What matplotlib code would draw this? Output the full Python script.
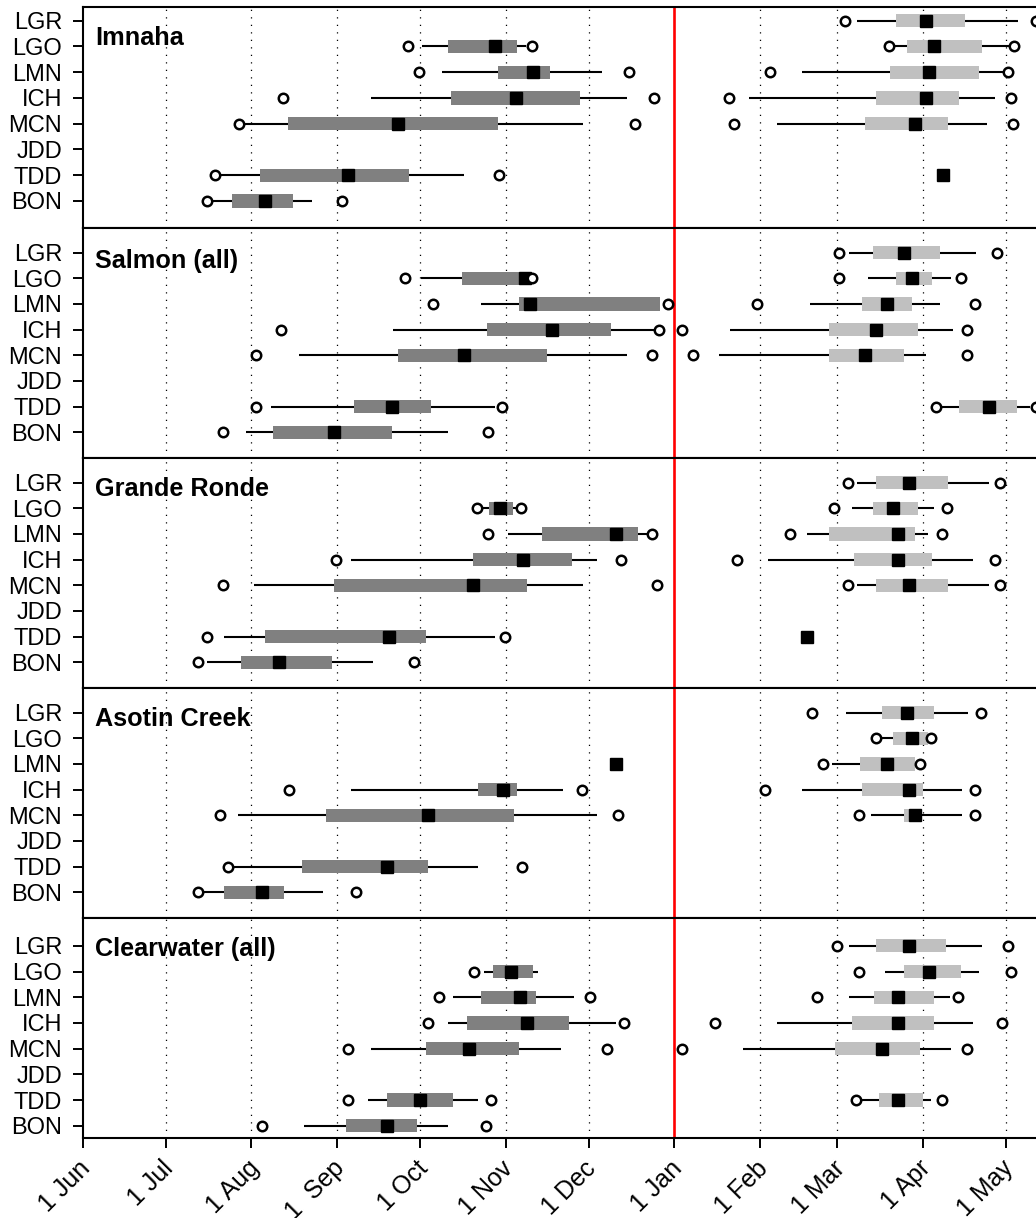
import matplotlib
matplotlib.use("Agg")
import matplotlib.pyplot as plt
from matplotlib.transforms import ScaledTranslation

plt.rcParams['font.family'] = ['Liberation Sans', 'DejaVu Sans']

# ---------------- data (days since 1 June) ----------------
STATIONS = ["LGR", "LGO", "LMN", "ICH", "MCN", "JDD", "TDD", "BON"]
PANEL_TITLES = ["Imnaha", "Salmon (all)", "Grande Ronde", "Asotin Creek", "Clearwater (all)"]
MONTH_TICKS = [0, 30, 61, 92, 122, 153, 183, 214, 245, 273, 304, 334]
MONTH_LABELS = ["1 Jun", "1 Jul", "1 Aug", "1  Sep", "1 Oct", "1 Nov", "1 Dec",
                "1 Jan", "1 Feb", "1 Mar", "1 Apr", "1 May"]
NEW_YEAR = 214

# [whisker low, q1, median, q3, whisker high]
IMNAHA_FALL = {
    "LGO": [122.6, 132.1, 149.1, 157.0, 160.4],
    "LMN": [129.9, 150.1, 163.0, 169.1, 188.0],
    "ICH": [104.2, 133.1, 156.8, 180.0, 197.0],
    "MCN": [58.7, 74.2, 114.0, 150.1, 180.9],
    "TDD": [49.7, 64.1, 96.0, 118.1, 138.0],
    "BON": [46.7, 54.1, 66.1, 76.0, 83.1],
}
IMNAHA_SPRING = {
    "LGR": [280.2, 294.3, 305.1, 319.2, 338.3],
    "LGO": [293.5, 298.1, 308.1, 325.3, 335.5],
    "LMN": [260.1, 292.1, 306.2, 324.3, 333.0],
    "ICH": [241.1, 287.1, 305.1, 317.1, 330.2],
    "MCN": [251.1, 283.1, 301.1, 313.2, 327.1],
}
IMNAHA_SINGLE = {"TDD": 311.1}
IMNAHA_OUT = {
    "LGR": [275.8, 344.9],
    "LGO": [117.8, 162.7, 291.7, 336.9],
    "LMN": [121.8, 197.8, 248.7, 334.9],
    "ICH": [72.6, 206.8, 233.8, 335.9],
    "MCN": [56.5, 199.8, 235.7, 336.7],
    "TDD": [47.9, 150.7],
    "BON": [44.9, 93.7],
}

SALMON_FALL = {
    "LGO": [122.3, 137.1, 160.0, 161.5, 161.5],
    "LMN": [144.1, 157.9, 161.8, 208.9, 208.9],
    "ICH": [112.2, 146.2, 169.9, 191.0, 207.1],
    "MCN": [78.3, 114.2, 138.0, 167.9, 197.0],
    "TDD": [68.0, 98.2, 112.0, 126.0, 149.2],
    "BON": [59.1, 69.0, 90.9, 112.0, 132.1],
}
SALMON_SPRING = {
    "LGR": [277.4, 286.0, 297.1, 310.2, 323.1],
    "LGO": [284.2, 294.3, 300.1, 307.2, 314.0],
    "LMN": [263.1, 282.1, 291.1, 300.1, 310.2],
    "ICH": [234.2, 270.1, 287.1, 302.1, 315.0],
    "MCN": [230.2, 270.1, 283.1, 297.1, 305.1],
    "TDD": [310.8, 317.1, 328.0, 338.1, 342.7],
}
SALMON_SINGLE = {}
SALMON_OUT = {
    "LGR": [273.7, 330.9],
    "LGO": [116.6, 162.7, 273.7, 317.8],
    "LMN": [126.6, 211.6, 243.8, 322.8],
    "ICH": [71.7, 208.6, 216.8, 319.8],
    "MCN": [62.6, 205.9, 220.7, 319.8],
    "TDD": [62.6, 151.8, 308.7, 344.9],
    "BON": [50.7, 146.7],
}

GRANDE_FALL = {
    "LGO": [144.9, 147.1, 151.0, 155.8, 157.0],
    "LMN": [154.0, 166.1, 192.9, 201.0, 204.0],
    "ICH": [97.1, 141.1, 159.2, 176.9, 186.0],
    "MCN": [62.1, 91.0, 141.1, 160.9, 180.9],
    "TDD": [51.1, 66.1, 110.9, 124.1, 149.2],
    "BON": [44.9, 57.2, 71.1, 90.1, 104.9],
}
GRANDE_SPRING = {
    "LGR": [280.2, 287.0, 299.1, 313.2, 328.0],
    "LGO": [278.2, 286.0, 293.1, 302.1, 308.1],
    "LMN": [262.2, 270.1, 295.1, 301.1, 305.9],
    "ICH": [248.0, 279.1, 295.1, 307.2, 322.2],
    "MCN": [280.2, 287.0, 299.1, 313.2, 328.0],
}
GRANDE_SINGLE = {"TDD": 262.2}
GRANDE_OUT = {
    "LGR": [276.8, 331.9],
    "LGO": [142.8, 158.6, 271.8, 312.8],
    "LMN": [146.7, 205.9, 255.9, 310.8],
    "ICH": [91.6, 194.8, 236.8, 330.1],
    "MCN": [50.7, 207.7, 276.8, 331.9],
    "TDD": [44.9, 152.8],
    "BON": [41.8, 119.9],
}

ASOTIN_FALL = {
    "ICH": [97.1, 143.1, 152.0, 157.0, 173.9],
    "MCN": [56.1, 88.0, 125.0, 156.1, 186.0],
    "TDD": [54.5, 79.2, 110.0, 125.0, 143.1],
    "BON": [43.6, 51.1, 65.0, 72.8, 86.8],
}
ASOTIN_SPRING = {
    "LGR": [276.2, 289.3, 298.1, 308.1, 320.2],
    "LGO": [288.5, 293.3, 300.1, 305.9, 305.9],
    "LMN": [271.2, 281.2, 291.1, 301.1, 301.1],
    "ICH": [260.1, 282.1, 299.1, 304.1, 318.0],
    "MCN": [285.2, 297.3, 301.1, 302.3, 318.0],
}
ASOTIN_SINGLE = {"LMN": 192.9}
ASOTIN_OUT = {
    "LGR": [263.7, 324.9],
    "LGO": [286.9, 306.9],
    "LMN": [267.7, 302.9],
    "ICH": [74.7, 180.8, 246.9, 322.8],
    "MCN": [49.7, 193.8, 280.9, 322.8],
    "TDD": [52.7, 158.8],
    "BON": [41.8, 98.9],
}

CLEAR_FALL = {
    "LGO": [145.2, 148.3, 155.0, 162.8, 164.8],
    "LMN": [134.1, 144.1, 158.2, 164.0, 177.9],
    "ICH": [132.3, 139.1, 160.9, 175.9, 192.8],
    "MCN": [104.2, 124.2, 139.9, 157.9, 172.9],
    "TDD": [103.1, 110.0, 122.0, 134.1, 142.9],
    "BON": [80.1, 95.2, 110.0, 120.8, 132.1],
}
CLEAR_SPRING = {
    "LGR": [277.2, 287.0, 299.1, 312.2, 325.3],
    "LGO": [290.3, 297.1, 306.2, 317.8, 324.3],
    "LMN": [277.2, 286.3, 295.1, 308.1, 313.8],
    "ICH": [251.3, 278.2, 295.1, 308.1, 322.0],
    "MCN": [239.0, 272.2, 289.1, 302.9, 314.0],
    "TDD": [281.6, 288.1, 295.1, 304.1, 306.9],
}
CLEAR_SINGLE = {}
CLEAR_OUT = {
    "LGR": [272.8, 334.9],
    "LGO": [141.7, 280.9, 335.7],
    "LMN": [128.9, 183.5, 265.8, 316.8],
    "ICH": [124.8, 195.8, 228.8, 332.7],
    "MCN": [95.9, 189.8, 216.7, 319.8],
    "TDD": [95.9, 147.7, 279.7, 310.8],
    "BON": [64.8, 145.9],
}

PANELS = [
    (IMNAHA_FALL, IMNAHA_SPRING, IMNAHA_SINGLE, IMNAHA_OUT),
    (SALMON_FALL, SALMON_SPRING, SALMON_SINGLE, SALMON_OUT),
    (GRANDE_FALL, GRANDE_SPRING, GRANDE_SINGLE, GRANDE_OUT),
    (ASOTIN_FALL, ASOTIN_SPRING, ASOTIN_SINGLE, ASOTIN_OUT),
    (CLEAR_FALL, CLEAR_SPRING, CLEAR_SINGLE, CLEAR_OUT),
]

# ---------------- layout (pixels) ----------------
W, H = 1036, 1218
LEFT_PX = 82.7
X_MAX = 345
PX_PER_DAY = 2.764
PANEL_PX = [(7.3, 228.3), (228.3, 458.3), (458.3, 688.3), (688.3, 918.3), (918.3, 1138.3)]
YLIMS = [(-0.06, 8.52), (-0.015, 8.95), (-0.015, 8.95), (-0.015, 8.95), (0.51, 9.07)]
TITLE_BASE_PX = [45.0, 268.0, 496.0, 726.5, 956.0]

FALL_COLOR = "#808080"
SPRING_COLOR = "#c0c0c0"
BOX_H = 0.52

fig = plt.figure(figsize=(W / 100, H / 100), dpi=100)
ypos = {s: 8 - i for i, s in enumerate(STATIONS)}

for k, (fall, spring, single, outl) in enumerate(PANELS):
    top, bot = PANEL_PX[k]
    ax = fig.add_axes([LEFT_PX / W, 1 - bot / H, X_MAX * PX_PER_DAY / W, (bot - top) / H])
    ax.set_xlim(0, X_MAX)
    ax.set_ylim(*YLIMS[k])

    for t in MONTH_TICKS[1:]:
        if t == NEW_YEAR:
            continue
        ax.axvline(t, color="black", lw=0.9, ls=(0, (1, 5)), zorder=1)
    ax.axvline(NEW_YEAR, color="#ff0000", lw=1.9, zorder=2)

    for group, col in ((fall, FALL_COLOR), (spring, SPRING_COLOR)):
        for st, (wlo, q1, med, q3, whi) in group.items():
            y = ypos[st]
            ax.plot([wlo, q1], [y, y], color="black", lw=1.5, zorder=3, solid_capstyle="butt")
            ax.plot([q3, whi], [y, y], color="black", lw=1.5, zorder=3, solid_capstyle="butt")
            ax.barh(y, q3 - q1, left=q1, height=BOX_H, color=col, edgecolor="none", zorder=4)
            ax.plot([med], [y], marker="s", ms=8.3, color="black", mec="black", lw=0, zorder=5)
    for st, med in single.items():
        ax.plot([med], [ypos[st]], marker="s", ms=8.3, color="black", lw=0, zorder=5)
    for st, vals in outl.items():
        ax.plot(vals, [ypos[st]] * len(vals), ls="none", marker="o", ms=6.8,
                mfc="white", mec="black", mew=1.8, zorder=6)

    ax.set_yticks([ypos[s] for s in STATIONS])
    ax.set_yticklabels(STATIONS, fontsize=17)
    ax.tick_params(axis="y", length=7.5, width=1.4, pad=7.3, direction="out")

    for side in ("top", "bottom", "left"):
        ax.spines[side].set_linewidth(1.5)
    ax.spines["right"].set_visible(False)

    if k == len(PANELS) - 1:
        ax.set_xticks(MONTH_TICKS)
        ax.set_xticklabels(MONTH_LABELS, fontsize=18, rotation=45, ha="right",
                           va="center", rotation_mode="anchor")
        ax.tick_params(axis="x", length=7.5, width=1.4, pad=11.5, direction="out")
        off = ScaledTranslation(4 / 100, 0, fig.dpi_scale_trans)
        for lab in ax.get_xticklabels():
            lab.set_transform(lab.get_transform() + off)
    else:
        ax.set_xticks([])

    bx = (95 - LEFT_PX) / (X_MAX * PX_PER_DAY)
    by = (bot - TITLE_BASE_PX[k]) / (bot - top)
    ax.text(bx, by, PANEL_TITLES[k], transform=ax.transAxes, fontsize=18.2,
            fontweight="bold", ha="left", va="baseline", zorder=7)

fig.savefig("out.png", dpi=100)
